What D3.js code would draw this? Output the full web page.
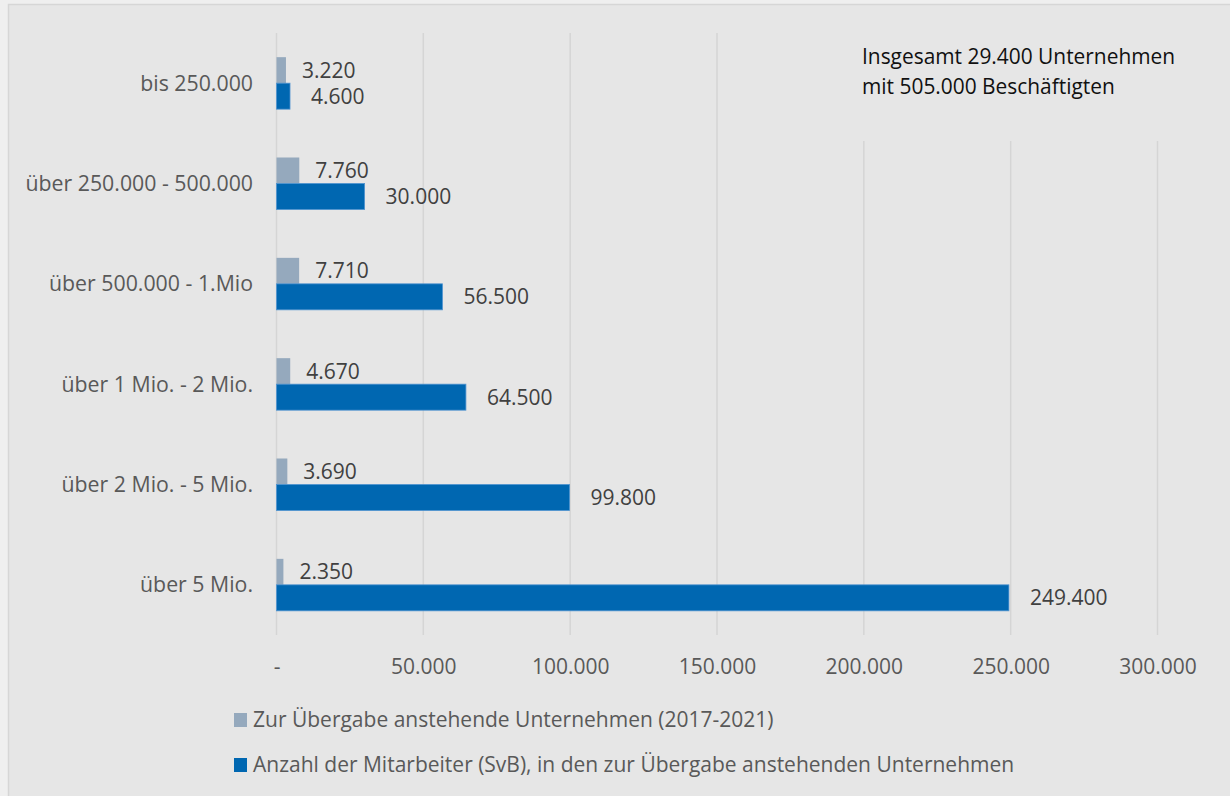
<!DOCTYPE html>
<html>
<head>
<meta charset="utf-8">
<script src="https://cdn.jsdelivr.net/npm/d3@7"></script>
<style>
    body { margin: 0; background: #efefef; }
    svg text { font-family: "Open Sans", sans-serif; }
</style>
</head>
<body>
<div id="chart"></div>
<script>
// chart data
const categories = ['bis 250.000', 'über 250.000 - 500.000', 'über 500.000 - 1.Mio', 'über 1 Mio. - 2 Mio.', 'über 2 Mio. - 5 Mio.', 'über 5 Mio.'];
const unternehmen = [3220, 7760, 7710, 4670, 3690, 2350];
const mitarbeiter = [4600, 30000, 56500, 64500, 99800, 249400];
const seriesNames = ['Zur Übergabe anstehende Unternehmen (2017-2021)', 'Anzahl der Mitarbeiter (SvB), in den zur Übergabe anstehenden Unternehmen'];
const xTicks = [0, 50000, 100000, 150000, 200000, 250000, 300000];
const noteLines = ['Insgesamt 29.400 Unternehmen', 'mit 505.000 Beschäftigten'];

document.addEventListener('DOMContentLoaded', function () {
    drawChart();
});

function drawChart() {
    const width = 1230;
    const height = 796;
    const colors = ['#95a9bd', '#0067b1'];
    const labelGap = [16, 21];

    const de = d3.formatLocale({ decimal: ',', thousands: '.', grouping: [3], currency: ['', '€'] });
    const fmt = de.format(',.0f');

    const svg = d3.select('#chart').append('svg').attr('width', width).attr('height', height);

    // chart area with top/left border (right & bottom are cut off in the original)
    svg.append('rect')
        .attr('x', 8.5).attr('y', 4.5)
        .attr('width', 1300).attr('height', 900)
        .attr('fill', '#e6e6e6')
        .attr('stroke', '#d6d6d6')
        .attr('stroke-width', 1.5);

    const x = d3.scaleLinear().domain([0, 300000]).range([276.5, 1157.5]);
    const y = d3.scaleBand().domain(categories).range([33, 635]);
    const ySub = d3.scaleBand().domain([0, 1]).range([0, y.bandwidth()]).paddingOuter(0.93);

    // gridlines
    svg.append('g').selectAll('line')
        .data(xTicks)
        .enter()
        .append('line')
        .attr('x1', d => x(d)).attr('x2', d => x(d))
        .attr('y1', 33).attr('y2', 635)
        .attr('stroke', '#d5d5d5')
        .attr('stroke-width', 1.5);

    // x axis labels
    const xAxis = d3.axisBottom(x).tickValues(xTicks).tickSize(0).tickPadding(0)
        .tickFormat(d => d === 0 ? '-' : fmt(d));
    const gx = svg.append('g').attr('transform', 'translate(0,667)').call(xAxis);
    gx.select('.domain').remove();
    gx.selectAll('text')
        .attr('dy', '0.35em')
        .attr('fill', '#595959')
        .style('font-size', '21px');

    // category labels
    svg.append('g').selectAll('text')
        .data(categories)
        .enter()
        .append('text')
        .attr('x', 253)
        .attr('y', d => y(d) + y.bandwidth() / 2)
        .attr('dy', '0.35em')
        .attr('text-anchor', 'end')
        .attr('fill', '#595959')
        .style('font-size', '21.3px')
        .text(d => d);

    const series = [unternehmen, mitarbeiter];
    series.forEach((values, s) => {
        const rows = categories.map((c, i) => ({ cat: c, value: values[i] }));
        const g = svg.append('g');
        g.selectAll('rect')
            .data(rows)
            .enter()
            .append('rect')
            .attr('x', x(0))
            .attr('y', d => y(d.cat) + ySub(s))
            .attr('width', d => x(d.value) - x(0))
            .attr('height', ySub.bandwidth())
            .attr('fill', colors[s])
            .attr('stroke', s === 1 ? '#4f93d0' : 'none')
            .attr('stroke-width', 0.8);
        g.selectAll('text')
            .data(rows)
            .enter()
            .append('text')
            .attr('x', d => x(d.value) + labelGap[s])
            .attr('y', d => y(d.cat) + ySub(s) + ySub.bandwidth() / 2)
            .attr('dy', '0.35em')
            .attr('fill', '#404040')
            .style('font-size', '21px')
            .text(d => fmt(d.value));
    });

    // note box
    svg.append('rect')
        .attr('x', 850).attr('y', 33)
        .attr('width', 350).attr('height', 108)
        .attr('fill', '#e6e6e6');
    svg.append('g').selectAll('text')
        .data(noteLines)
        .enter()
        .append('text')
        .attr('x', 862)
        .attr('y', (d, i) => 57 + i * 30)
        .attr('dy', '0.35em')
        .attr('fill', '#111')
        .style('font-size', '20.9px')
        .text(d => d);

    // legend
    const legend = svg.append('g').selectAll('g')
        .data(seriesNames)
        .enter()
        .append('g')
        .attr('transform', (d, i) => `translate(234,${720 + i * 45})`);
    legend.append('rect')
        .attr('x', 0).attr('y', -7)
        .attr('width', 13).attr('height', 14)
        .attr('fill', (d, i) => colors[i]);
    legend.append('text')
        .attr('x', 19)
        .attr('dy', '0.35em')
        .attr('fill', '#595959')
        .style('font-size', '21px')
        .text(d => d);
}
</script>
</body>
</html>
